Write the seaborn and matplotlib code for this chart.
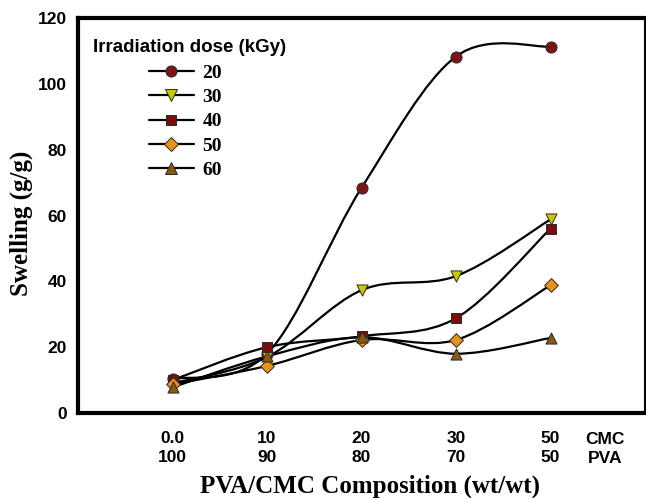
import numpy as np
import pandas as pd
import matplotlib
matplotlib.use("Agg")
import matplotlib.pyplot as plt
import seaborn as sns
from matplotlib.path import Path
from matplotlib.patches import PathPatch
from matplotlib.lines import Line2D

# -----------------------------
# Data
# -----------------------------
cmc_labels = ["0.0", "10", "20", "30", "50"]
pva_labels = ["100", "90", "80", "70", "50"]
doses = ["20", "30", "40", "50", "60"]

swell_20 = [10.3, 18.0, 68.4, 108.3, 111.3]
swell_30 = [9.0, 17.0, 37.3, 41.6, 58.8]
swell_40 = [10.0, 20.0, 23.3, 28.8, 56.0]
swell_50 = [8.7, 14.3, 22.2, 22.2, 38.8]
swell_60 = [7.8, 17.2, 23.0, 18.0, 22.8]

colors = ["#7d1414", "#c9c800", "#7a0c0c", "#e8911c", "#8a5a0c"]
markers = ["o", "v", "s", "D", "^"]
msizes = [8.0, 8.0, 6.5, 7.0, 8.0]

series = [swell_20, swell_30, swell_40, swell_50, swell_60]
positions = np.arange(1, len(cmc_labels) + 1)

df = pd.DataFrame({
    "pos": np.tile(positions, len(doses)),
    "swelling": np.concatenate(series),
    "dose": np.repeat(doses, len(positions)),
})


def smooth_path(xs, ys):
    # Excel style smoothed line: Catmull-Rom drawn as cubic Bezier segments
    xs = np.asarray(xs, float)
    ys = np.asarray(ys, float)
    px = np.concatenate([[xs[0]], xs, [xs[-1]]])
    py = np.concatenate([[ys[0]], ys, [ys[-1]]])
    verts = [(xs[0], ys[0])]
    codes = [Path.MOVETO]
    for i in range(1, len(px) - 2):
        c1 = (px[i] + (px[i + 1] - px[i - 1]) / 6, py[i] + (py[i + 1] - py[i - 1]) / 6)
        c2 = (px[i + 1] - (px[i + 2] - px[i]) / 6, py[i + 1] - (py[i + 2] - py[i]) / 6)
        verts += [c1, c2, (px[i + 1], py[i + 1])]
        codes += [Path.CURVE4] * 3
    return Path(verts, codes)


# -----------------------------
# Plot
# -----------------------------
sns.set_style("white")
plt.rcParams["font.family"] = ["Liberation Sans", "DejaVu Sans"]
plt.rcParams["text.color"] = "black"
plt.rcParams["axes.labelcolor"] = "black"
plt.rcParams["xtick.color"] = "black"
plt.rcParams["ytick.color"] = "black"

fig = plt.figure(figsize=(6.46, 4.98), dpi=100)
ax = fig.add_axes([78 / 646, 85 / 498, 567 / 646, 395 / 498])

for ys in series:
    patch = PathPatch(smooth_path(positions, ys), facecolor="none",
                      edgecolor="black", lw=1.6, zorder=2)
    ax.add_patch(patch)

for d, c, m, ms in zip(doses, colors, markers, msizes):
    sub = df[df["dose"] == d]
    sns.scatterplot(data=sub, x="pos", y="swelling", color=c, marker=m,
                    s=ms ** 2, edgecolor="#2a2a2a", linewidth=0.7,
                    zorder=3, ax=ax, legend=False)

ax.set_xlim(0, 6)
ax.set_ylim(0, 120)
ax.set_yticks(np.arange(0, 121, 20))
ax.set_xticks(np.arange(0, 7))
ax.set_xticklabels([""] + [f"{c}\n{p}" for c, p in zip(cmc_labels, pva_labels)] + [""],
                   linespacing=1.35)
ax.text(5.58, -0.047, "CMC\nPVA", transform=ax.get_xaxis_transform(),
        ha="center", va="top", fontsize=12.5, fontweight="bold",
        linespacing=1.35, color="black")

ax.tick_params(axis="both", direction="out", length=5, width=1.3,
               labelsize=12.5, color="black", labelcolor="black", pad=3)
ax.tick_params(axis="x", pad=8)
for lab in ax.get_xticklabels() + ax.get_yticklabels():
    lab.set_fontweight("bold")

for side in ["left", "bottom", "top"]:
    ax.spines[side].set_linewidth(3.0)
ax.spines["right"].set_linewidth(1.5)
for s in ax.spines.values():
    s.set_color("black")

ax.set_xlabel("PVA/CMC Composition (wt/wt)", fontsize=18, fontweight="bold",
              family="Liberation Serif", color="black")
ax.set_ylabel("Swelling (g/g)", fontsize=18, fontweight="bold",
              family="Liberation Serif", color="black")
ax.xaxis.set_label_coords(0.515, -0.157)
ax.yaxis.set_label_coords(-0.08, 0.48)

# legend
fig.text(93 / 646, 1 - 47 / 498, "Irradiation dose (kGy)", fontsize=13.5,
         fontweight="bold", va="center", ha="left", color="black")
handles = [Line2D([0], [0], color="black", lw=1.6, marker=m, markersize=ms,
                  markerfacecolor=c, markeredgecolor="#2a2a2a", markeredgewidth=0.7)
           for c, m, ms in zip(colors, markers, msizes)]
leg = fig.legend(handles, doses, loc="upper left",
                 bbox_to_anchor=(149 / 646, 1 - 64 / 498),
                 frameon=False, borderpad=0, borderaxespad=0,
                 handlelength=2.3, handletextpad=0.45, labelspacing=0.35,
                 labelcolor="black",
                 prop={"family": "Liberation Serif", "weight": "bold", "size": 14})

fig.savefig("out.png", dpi=100)
